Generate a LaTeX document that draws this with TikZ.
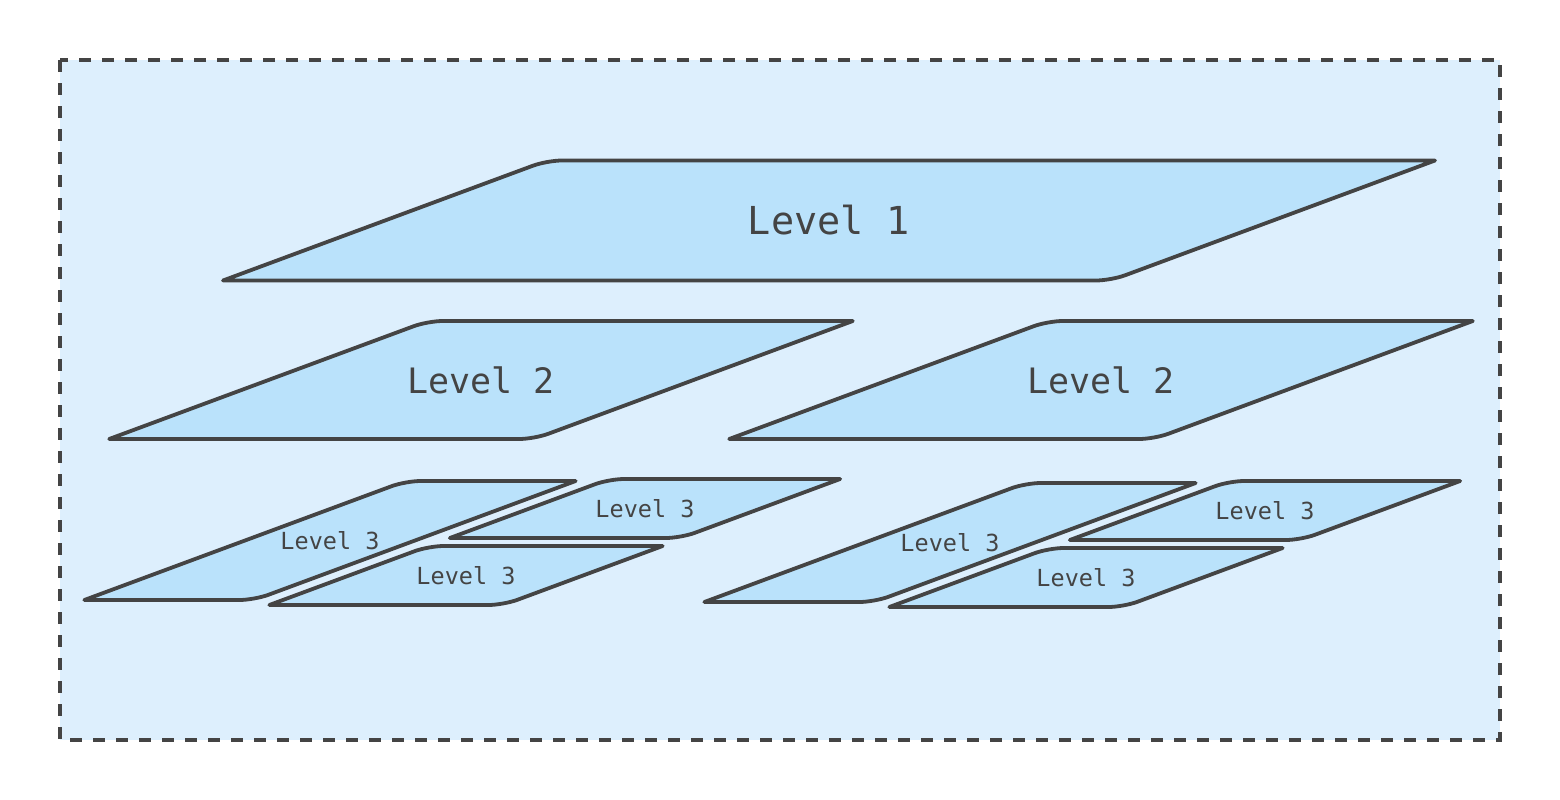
\documentclass[tikz,border=0pt]{standalone}
\usepackage{fontspec}
\setmonofont{DejaVu Sans Mono}
\usetikzlibrary{calc}
\definecolor{bgblue}{HTML}{DDEFFD}
\definecolor{planeblue}{HTML}{BAE2FB}
\definecolor{inkgray}{HTML}{444444}
\tikzset{
  plane/.style={draw=inkgray, fill=planeblue, line width=3.8pt, line join=round},
  frame/.style={draw=inkgray, fill=bgblue, line width=3.2pt, dash pattern=on 12pt off 11pt},
  planelabel/.style={text=inkgray, inner sep=0pt},
}
\newcommand\drawplane[7]{%
  \pgfmathsetmacro\phw{#4/2}%
  \pgfmathsetmacro\phh{#5/2}%
  \pgfmathsetmacro\psk{1.35*#5}%
  \coordinate (#1-bl) at (#2-\phw-\psk,#3+\phh);
  \coordinate (#1-tl) at (#2-\phw+\psk,#3-\phh);
  \coordinate (#1-tr) at (#2+\phw+\psk,#3-\phh);
  \coordinate (#1-br) at (#2+\phw-\psk,#3+\phh);
  \coordinate (#1-a) at ($(#1-tl)!15pt!(#1-bl)$);
  \coordinate (#1-b) at ($(#1-tl)!15pt!(#1-tr)$);
  \coordinate (#1-c) at ($(#1-br)!15pt!(#1-tr)$);
  \coordinate (#1-d) at ($(#1-br)!15pt!(#1-bl)$);
  \draw[plane] (#1-bl) -- (#1-a) .. controls ($(#1-a)!0.55!(#1-tl)$) and ($(#1-b)!0.55!(#1-tl)$) .. (#1-b)
    -- (#1-tr) -- (#1-c) .. controls ($(#1-c)!0.55!(#1-br)$) and ($(#1-d)!0.55!(#1-br)$) .. (#1-d) -- cycle;
  \node[planelabel, font=\fontsize{#6}{#6}\selectfont\ttfamily] (#1) at (#2,#3) {#7};
}
\begin{document}
\begin{tikzpicture}[x=1pt,y=-1pt]
  \useasboundingbox (0,0) rectangle (1560,800);
  \path[frame] (60,60) rectangle (1500,740);
  % Level 1
  \drawplane{l1}{829}{220.5}{888}{120}{38.5}{Level 1}
  % Level 2
  \drawplane{l2a}{481}{380}{425}{118}{35}{Level 2}
  \drawplane{l2b}{1101}{380}{425}{118}{35}{Level 2}
  % Level 3 left cluster
  \drawplane{l3a}{330}{540.5}{170}{119}{23.5}{Level 3}
  \drawplane{l3b}{645}{508.5}{231}{59}{23.5}{Level 3}
  \drawplane{l3c}{466}{575.5}{234}{59}{23.5}{Level 3}
  % Level 3 right cluster
  \drawplane{l3d}{950}{542.5}{170}{119}{23.5}{Level 3}
  \drawplane{l3e}{1265}{510.5}{231}{59}{23.5}{Level 3}
  \drawplane{l3f}{1086}{577.5}{234}{59}{23.5}{Level 3}
\end{tikzpicture}
\end{document}
